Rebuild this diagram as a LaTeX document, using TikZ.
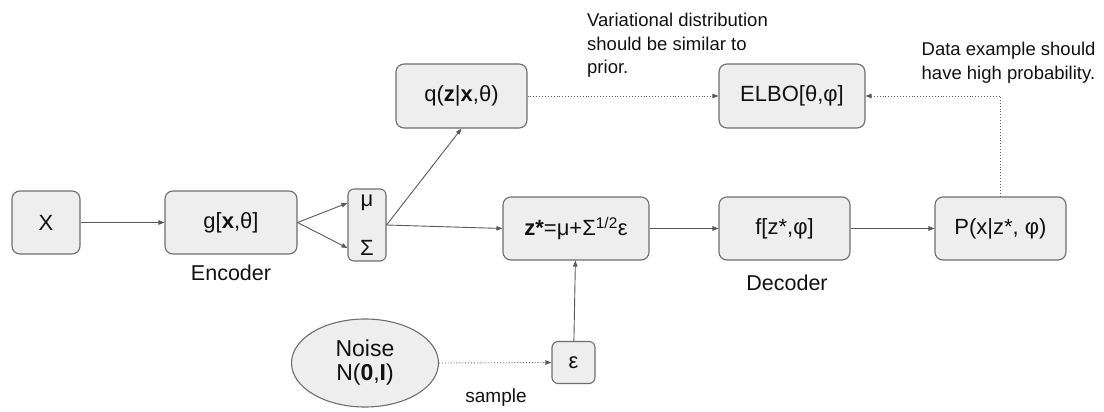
\documentclass[tikz,border=0pt]{standalone}
\usepackage{fontspec}
\setmainfont{Liberation Sans}
\usetikzlibrary{arrows.meta,shapes.geometric}
\definecolor{boxfill}{HTML}{EEEEEE}
\definecolor{boxline}{HTML}{6E6E6E}
\definecolor{arrowgray}{HTML}{595959}
\definecolor{textcol}{HTML}{111111}
\tikzset{
  blk/.style={draw=boxline, fill=boxfill, rounded corners=8pt, line width=1.1pt,
    minimum height=63pt, inner sep=0pt, text=textcol,
    font=\fontsize{22}{26}\selectfont},
  lbl/.style={inner sep=0pt, text=textcol, font=\fontsize{21.5}{25}\selectfont},
  note/.style={inner sep=0pt, text=textcol, align=left, anchor=north west,
    font=\fontsize{18.5}{23.4}\selectfont},
  conn/.style={draw=arrowgray, line width=0.9pt,
    -{Triangle[length=6pt,width=4.5pt]}},
  dotconn/.style={conn, dotted},
}
\begin{document}
\begin{tikzpicture}[x=1pt,y=-1pt]
\useasboundingbox (0,0) rectangle (1104,412);
% boxes
\node[blk, minimum width=68pt] (X) at (46,222.5) {X};
\node[blk, minimum width=132pt] (g) at (231,222.5) {g[\textbf{x},θ]};
\node[blk, minimum width=38pt, minimum height=72pt, rounded corners=6pt] (ms) at (367,225) {};
\node[lbl, font=\fontsize{22}{26}\selectfont] (mu) at (367,203) {μ};
\node[lbl, font=\fontsize{22}{26}\selectfont] (sig) at (367,248) {Σ};
\node[blk, minimum width=131pt, minimum height=64pt] (q) at (461.5,96) {q(\textbf{z}|\textbf{x},θ)};
\node[blk, minimum width=146pt] (zs) at (576,228.5) {\textbf{z*}=μ+Σ\textsuperscript{1/2}ε};
\node[blk, minimum width=131pt] (f) at (784.5,228.5) {f[z*,φ]};
\node[blk, minimum width=131pt] (P) at (1000.5,228.5) {P(x|z*, φ)};
\node[blk, minimum width=146pt, minimum height=64pt] (E) at (792,96) {ELBO[θ,φ]};
\node[ellipse, draw=boxline, fill=boxfill, line width=1.1pt, minimum width=147pt,
  minimum height=88pt, inner sep=0pt, align=center, text=textcol,
  font=\fontsize{23}{24}\selectfont] (N) at (365,363) {Noise\\N(\textbf{0},\textbf{I})};
\node[blk, minimum width=43pt, minimum height=42pt, rounded corners=6pt] (eps) at (573.5,362.5) {ε};
% labels
\node[lbl] (enc) at (231,273) {Encoder};
\node[lbl] (dec) at (787,283) {Decoder};
\node[lbl, font=\fontsize{19}{22}\selectfont] (smp) at (496,398) {sample};
\node[note] (n1) at (587,13) {Variational distribution\\should be similar to\\prior.};
\node[note] (n2) at (921.5,42) {Data example should\\have high probability.};
% connectors
\coordinate (split) at (ms.east);
\draw[conn] (X) -- (g);
\draw[conn] (g.east) -- (ms.west |- mu);
\draw[conn] (g.east) -- (ms.west |- sig);
\draw[conn] (split) -- (q.south);
\draw[conn] (split) -- (zs.west);
\draw[conn] (zs) -- (f);
\draw[conn] (f) -- (P);
\draw[conn] (eps) -- (zs);
\draw[dotconn] (q) -- (E);
\draw[dotconn] (P.north) |- (E.east);
\draw[dotconn] (N.east) -- (eps.west);
\end{tikzpicture}
\end{document}
